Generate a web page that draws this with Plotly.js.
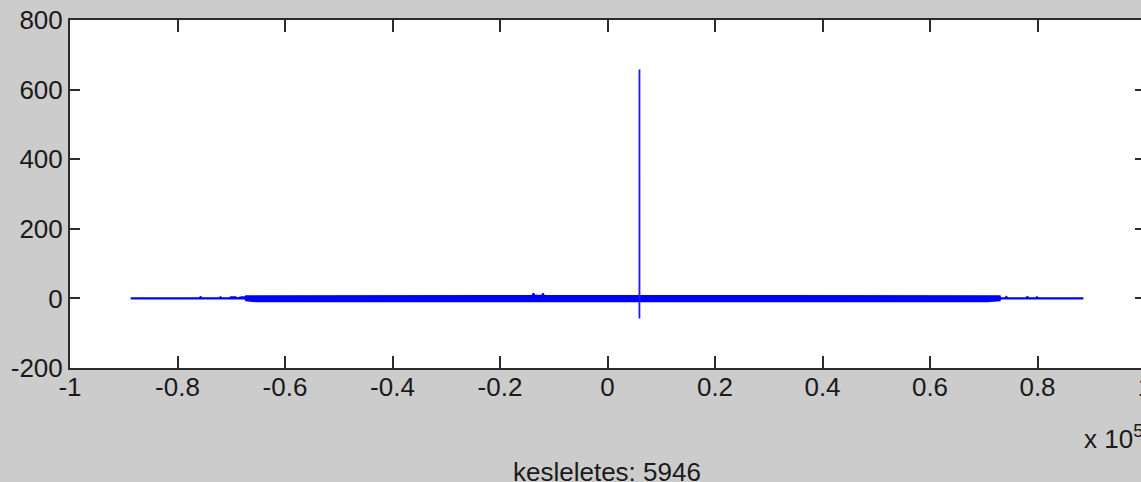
<!DOCTYPE html>
<html>
<head>
<meta charset="utf-8">
<script src="https://cdn.plot.ly/plotly-3.0.1.min.js"></script>
<style>
  html, body { margin: 0; padding: 0; background: #cccccc; overflow: hidden; width: 1141px; height: 482px; }
  #chart { width: 1150px; height: 482px; }
</style>
</head>
<body>
<div id="chart"></div>
<script>
// Cross-correlation result: lag (samples) vs. value
// Envelope of the dense low-level band
const envLag = [-88700, -76000, -75700, -75400, -72300, -72000, -71700, -70400, -70100, -69200, -68900, -68100, -67400, -67300,
                -65500, -60000, -55000, -53500, -50000, -14000, -13800, -13500, -12200, -12000, -11800, -5000,
                5000, 20000, 40000, 57500, 62000, 66000, 70700, 73000, 73100, 74000, 74200, 74500, 77800, 78100, 78500,
                79600, 79900, 80200, 88400];
const envUpper = [1, 1, 5, 1, 1, 4, 1, 1, 4, 4, 1, 4, 4, 7,
                  7, 7, 7, 7, 8, 8, 15, 8, 8, 15, 8, 8,
                  8, 8, 8, 7, 7, 7, 7, 7, 1, 1, 5, 1, 1, 5, 1,
                  1, 4, 1, 1];
const envLower = [-1, -1, -1, -1, -1, -1, -1, -1, -1, -1, -1, -1, -1, -6,
                  -9, -9, -9, -9, -8, -8, -8, -8, -8, -8, -8, -8,
                  -8, -8, -8, -9, -9, -9, -9, -6, -1, -1, -1, -1, -1, -1, -1,
                  -1, -1, -1, -1];
// Main correlation peak (delay = 5946 samples)
const peakLag = [5940, 5946, 5952];
const peakVal = [-58, 658, 0];

// Axis ticks
const xTickVals = [-100000, -80000, -60000, -40000, -20000, 0, 20000, 40000, 60000, 80000, 100000];
const xTickText = ['-1', '-0.8', '-0.6', '-0.4', '-0.2', '0', '0.2', '0.4', '0.6', '0.8', '1'];
const yTickVals = [-200, 0, 200, 400, 600, 800];
const yTickText = ['-200', '0', '200', '400', '600', '800'];

const delayLabel = 'kesleletes: 5946';

const bandX = envLag.concat(envLag.slice().reverse());
const bandY = envUpper.concat(envLower.slice().reverse());

const traces = [
  {
    x: bandX, y: bandY, type: 'scatter', mode: 'lines',
    fill: 'toself', fillcolor: '#0000ff',
    line: { color: '#0000ff', width: 1.5 },
    hoverinfo: 'skip', showlegend: false
  },
  {
    x: peakLag, y: peakVal, type: 'scatter', mode: 'lines',
    line: { color: '#1a1aff', width: 1.8 },
    showlegend: false
  }
];

const axisFont = { family: 'Liberation Sans, Arial, sans-serif', size: 26, color: '#1a1a1a' };

const layout = {
  width: 1150, height: 482,
  paper_bgcolor: '#cccccc', plot_bgcolor: '#ffffff',
  margin: { l: 70, r: 5, t: 20, b: 114, pad: 0 },
  showlegend: false,
  xaxis: {
    range: [-100000, 100000], tickvals: xTickVals, ticktext: xTickText,
    ticks: 'inside', ticklen: 12, tickwidth: 2, tickcolor: '#2b2b2b',
    showline: true, linecolor: '#2b2b2b', linewidth: 2, mirror: 'ticks',
    showgrid: false, zeroline: false, tickfont: axisFont, ticklabelstandoff: -5,
    ticklabeloverflow: 'allow'
  },
  yaxis: {
    range: [-200, 800], tickvals: yTickVals, ticktext: yTickText,
    ticks: 'inside', ticklen: 10, tickwidth: 2, tickcolor: '#2b2b2b',
    showline: true, linecolor: '#2b2b2b', linewidth: 2, mirror: 'ticks',
    showgrid: false, zeroline: false, tickfont: axisFont, ticklabelstandoff: 0,
    ticklabeloverflow: 'allow'
  },
  annotations: [
    {
      text: 'x 10<sup>5</sup>', xref: 'paper', yref: 'paper',
      x: 0.941, y: -0.2, xanchor: 'left', yanchor: 'middle',
      showarrow: false, font: axisFont
    },
    {
      text: delayLabel, xref: 'paper', yref: 'paper',
      x: 0.4995, y: -0.25, xanchor: 'center', yanchor: 'top',
      showarrow: false, font: axisFont
    }
  ]
};

Plotly.newPlot('chart', traces, layout, { staticPlot: true, displayModeBar: false });
</script>
</body>
</html>
